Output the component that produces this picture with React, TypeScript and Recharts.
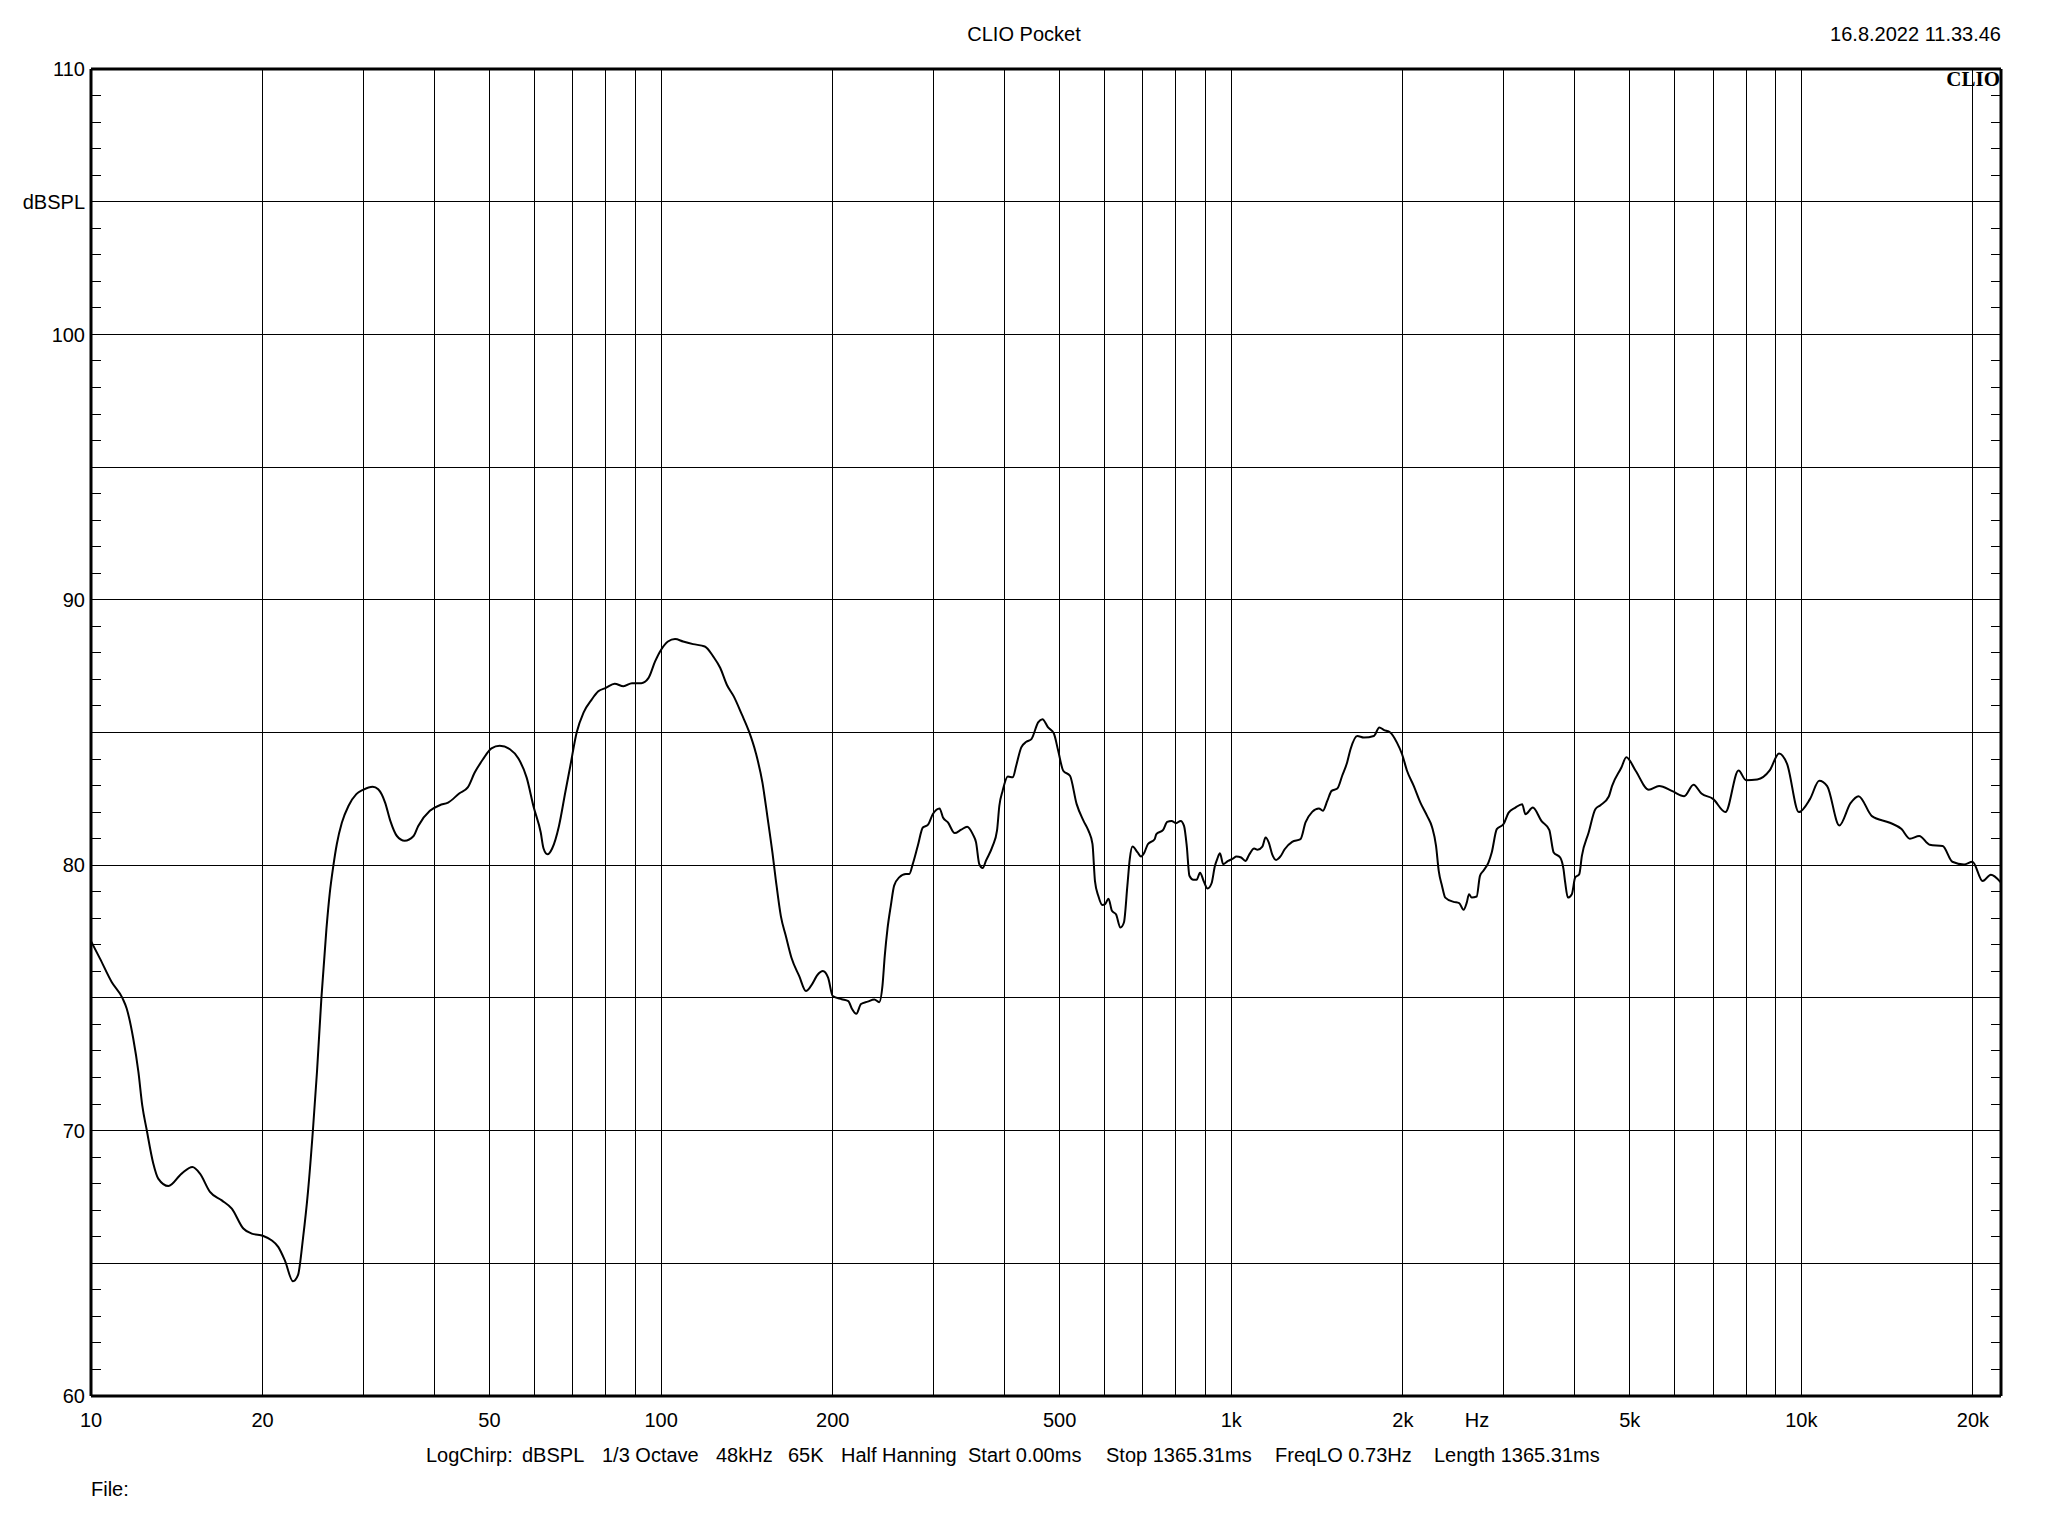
import React from "react";
import { LineChart, Line, XAxis, YAxis, ReferenceLine } from "recharts";

// frequency (Hz) and level (dBSPL)
const freqHz = [
  10, 10.37, 10.87, 11.35, 11.55, 11.86, 12.11, 12.3, 12.52, 12.86, 13.12, 13.67,
  14.42, 15.06, 15.53, 16.17, 16.96, 17.66, 18.5, 19.14, 20.06, 20.73, 21.3, 21.88,
  22.61, 23.07, 23.54, 24.02, 24.51, 24.91, 25.36, 25.88, 26.23, 26.6, 26.99, 27.54,
  28.3, 29.2, 30, 31.2, 31.9, 32.8, 33.5, 34.4, 35.5, 36.8, 37.5, 39.3, 40.9, 42.3,
  44.3, 45.8, 47.1, 48.7, 50.4, 52.1, 54.3, 56.2, 58.1, 59.8, 61.5, 62.2, 63.2, 64.4,
  66.2, 67.9, 69.3, 71.1, 73.1, 75.6, 77.6, 80, 82.9, 85.9, 88.9, 92.3, 95, 97.6, 100,
  102.8, 105.8, 109.3, 113.8, 119.3, 123.4, 127, 130.4, 134.1, 138.6, 142.6, 146.6,
  150.6, 153.6, 156.8, 158.9, 162.2, 165.5, 169.3, 174.7, 179.5, 183.2, 188.3, 192.2,
  196.3, 200, 207.4, 213, 216, 220, 224.2, 230.3, 236.6, 241.3, 244.5, 246.8, 249.5,
  252.9, 256.3, 261.6, 268.8, 272.5, 276.3, 282, 287.8, 293.7, 299.7, 307.9, 312.2,
  318.5, 327.3, 336.1, 344.2, 352.1, 356.8, 361.5, 366.5, 371.4, 381.6, 388.3, 392,
  397.2, 405.6, 414, 419.6, 428.3, 437.2, 446.2, 458.5, 466.5, 477.3, 488.4, 497.2,
  507.4, 521.4, 535.7, 550.5, 561.8, 571, 576.8, 584.7, 594.3, 600.8, 609.2, 617.7,
  627.9, 639.3, 648.3, 657.4, 663.8, 671.2, 685.2, 694.6, 704.2, 714, 733.9, 739,
  759.6, 772.1, 785.9, 800.1, 815.4, 826.5, 835.6, 844.7, 858.3, 869.7, 881.6, 895.9,
  909, 923.7, 936.2, 945, 955.5, 968.2, 987.6, 1007, 1021, 1041, 1059, 1076, 1097,
  1112, 1134, 1149, 1164, 1180, 1199, 1220, 1241, 1279, 1323, 1350, 1387, 1425, 1448,
  1474, 1500, 1535, 1566, 1597, 1619, 1664, 1709, 1779, 1819, 1851, 1901, 1953, 1994,
  2034, 2090, 2147, 2206, 2251, 2287, 2312, 2343, 2374, 2455, 2511, 2556, 2589, 2613,
  2641, 2695, 2731, 2769, 2826, 2864, 2923, 3004, 3066, 3151, 3238, 3282, 3381, 3500,
  3613, 3678, 3776, 3827, 3853, 3895, 3958, 4012, 4078, 4122, 4236, 4352, 4442, 4595,
  4657, 4835, 4932, 5118, 5401, 5630, 5940, 6230, 6470, 6680, 7000, 7360, 7760, 8000,
  8370, 8800, 9140, 9440, 9900, 10360, 10750, 11100, 11660, 12200, 12600, 13300, 14300,
  14990, 15500, 16100, 16800, 17700, 18400, 19300, 19960, 20800, 21500, 22400,
];

const splDb = [
  77.14, 76.48, 75.6, 75.0, 74.6, 73.47, 72.21, 70.95, 70.04, 68.76, 68.19, 67.91,
  68.38, 68.63, 68.38, 67.69, 67.37, 67.06, 66.31, 66.12, 66.03, 65.87, 65.62, 65.11,
  64.32, 64.55, 65.93, 67.69, 70.04, 72.21, 75.0, 77.6, 78.95, 79.95, 80.8, 81.6,
  82.24, 82.68, 82.84, 82.96, 82.86, 82.36, 81.67, 81.1, 80.92, 81.1, 81.48, 82.05, 82.26, 82.36,
  82.71, 82.93, 83.49, 83.99, 84.4, 84.5, 84.37, 84.02, 83.3, 82.17, 81.23, 80.63, 80.41, 80.63,
  81.48, 82.74, 83.74, 85.0, 85.75, 86.25, 86.55, 86.68, 86.84, 86.74, 86.86, 86.86, 87.05, 87.68, 88.12,
  88.43, 88.52, 88.43, 88.33, 88.24, 87.87, 87.43, 86.8, 86.36, 85.67, 85.04, 84.23,
  83.1, 81.84, 80.46, 79.46, 78.08, 77.33, 76.51, 75.82, 75.26, 75.45, 75.88, 76.01,
  75.76, 75.07, 74.95, 74.88, 74.6, 74.4, 74.77, 74.86, 74.94, 74.84, 75.46, 76.59, 77.6,
  78.48, 79.23, 79.54, 79.67, 79.67, 80.04, 80.73, 81.42, 81.52, 81.93, 82.14, 81.8,
  81.61, 81.21, 81.34, 81.45, 81.17, 80.86, 80.04, 79.89, 80.17, 80.73, 81.3, 82.24,
  82.8, 83.34, 83.31, 83.75, 84.44, 84.65, 84.75, 85.38, 85.5, 85.19, 84.97, 84.31,
  83.56, 83.37, 82.3, 81.68, 81.3, 80.8, 79.4, 78.84, 78.5, 78.53, 78.74, 78.28,
  78.15, 77.65, 77.84, 79.22, 80.23, 80.7, 80.48, 80.33, 80.48, 80.79, 80.98, 81.17,
  81.33, 81.63, 81.67, 81.58, 81.67, 81.48, 80.73, 79.6, 79.45, 79.45, 79.72, 79.37,
  79.12, 79.32, 79.97, 80.23, 80.45, 80.04, 80.16, 80.25, 80.33, 80.29, 80.16, 80.41, 80.63,
  80.58, 80.7, 81.04, 80.85, 80.41, 80.2, 80.33, 80.6, 80.88, 80.98, 81.61, 82.01, 82.14, 82.05,
  82.42, 82.8, 82.89, 83.38, 83.87, 84.37, 84.87, 84.81, 84.87, 85.19, 85.1, 85.0, 84.62, 84.18,
  83.56, 82.99, 82.36, 81.86, 81.43, 80.73, 79.79, 79.22, 78.78, 78.62, 78.57, 78.32, 78.59, 78.91,
  78.78, 78.82, 79.6, 79.79, 80.1, 80.48, 81.36, 81.55, 81.98, 82.17, 82.3, 81.92, 82.17, 81.67,
  81.33, 80.48, 80.29, 79.85, 79.35, 78.78, 78.91, 79.54, 79.66, 80.35, 81.23, 82.11, 82.26, 82.59,
  82.99, 83.68, 84.07, 83.57, 82.84, 82.98, 82.79, 82.6, 83.03, 82.7, 82.5, 82.0, 83.57, 83.2,
  83.23, 83.57, 84.21, 83.82, 82.0, 82.5, 83.18, 82.98, 81.5, 82.34, 82.6, 81.85, 81.6,
  81.36, 81.0, 81.1, 80.77, 80.72, 80.13, 80.03, 80.13, 79.4, 79.64, 79.34,
];

const freqGrid = [
  20, 30, 40, 50, 60, 70, 80, 90, 100, 200, 300, 400, 500, 600, 700, 800, 900,
  1000, 2000, 3000, 4000, 5000, 6000, 7000, 8000, 9000, 10000, 20000,
];
const freqLabels = [10, 20, 50, 100, 200, 500, 1000, 2000, 5000, 10000, 20000];
const dbGrid = [65, 70, 75, 80, 85, 90, 95, 100, 105];
const dbTicks = Array.from({ length: 51 }, (_, i) => 60 + i);

const data = freqHz.map((f, i) => ({ f, db: splDb[i] }));

const W = 2048;
const H = 1536;
const PLOT_LEFT = 91;
const PLOT_RIGHT = 2001;
const FONT = '"Liberation Sans", Arial, sans-serif';

const fmtHz = (v: number) => (v >= 1000 ? `${v / 1000}k` : `${v}`);

// left axis tick: labels on the 10s, short inward marks on the 1 dB steps (both frame sides)
const DbTick = ({ x, y, payload }: any) => {
  const v = payload.value;
  if (v % 5 !== 0) {
    const xr = x + (PLOT_RIGHT - PLOT_LEFT);
    return (
      <g>
        <line x1={x} x2={x + 10} y1={y} y2={y} stroke="#000" shapeRendering="crispEdges" />
        <line x1={xr - 10} x2={xr} y1={y} y2={y} stroke="#000" shapeRendering="crispEdges" />
      </g>
    );
  }
  const label = v % 10 === 0 ? String(v) : v === 105 ? "dBSPL" : "";
  return (
    <text x={x - 6} y={y} dy="0.36em" textAnchor="end" fontSize={20} fontFamily={FONT} fill="#000">
      {label}
    </text>
  );
};

const Txt = ({ x, y, anchor = "start", style, children }: any) => {
  const tx = anchor === "end" ? "-100%" : anchor === "middle" ? "-50%" : "0";
  return (
    <div
      style={{
        position: "absolute",
        left: x,
        top: y,
        transform: `translate(${tx}, -50%)`,
        whiteSpace: "pre",
        lineHeight: 1,
        fontSize: 20,
        fontFamily: FONT,
        color: "#000",
        ...style,
      }}
    >
      {children}
    </div>
  );
};

export default function App() {
  return (
    <div style={{ position: "absolute", left: 0, top: 0, width: W, height: H, background: "#fff" }}>
      <LineChart
        width={W}
        height={H}
        data={data}
        margin={{ top: 69, right: W - PLOT_RIGHT - 20, bottom: 100, left: PLOT_LEFT - 80 }}
      >
        <XAxis
          dataKey="f"
          type="number"
          scale="log"
          domain={[10, 22400]}
          ticks={freqLabels}
          tickFormatter={fmtHz}
          interval={0}
          height={40}
          tickLine={false}
          tickSize={0}
          tickMargin={17}
          axisLine={{ stroke: "#000", strokeWidth: 3 }}
          tick={{ fill: "#000", fontSize: 20, fontFamily: FONT }}
          allowDataOverflow
        />
        <YAxis
          yAxisId="left"
          type="number"
          domain={[60, 110]}
          ticks={dbTicks}
          interval={0}
          width={80}
          tickLine={false}
          tickSize={0}
          tickMargin={0}
          axisLine={{ stroke: "#000", strokeWidth: 3 }}
          tick={<DbTick />}
        />
        <YAxis
          yAxisId="right"
          orientation="right"
          type="number"
          domain={[60, 110]}
          width={20}
          tick={false}
          tickLine={false}
          axisLine={{ stroke: "#000", strokeWidth: 3 }}
        />
        {freqGrid.map((v) => (
          <ReferenceLine
            key={`x${v}`}
            yAxisId="left"
            x={v}
            stroke="#000"
            strokeWidth={1}
            shapeRendering="crispEdges"
          />
        ))}
        {dbGrid.map((v) => (
          <ReferenceLine
            key={`y${v}`}
            yAxisId="left"
            y={v}
            stroke="#000"
            strokeWidth={1}
            shapeRendering="crispEdges"
          />
        ))}
        <ReferenceLine yAxisId="left" y={110} stroke="#000" strokeWidth={3} />
        <Line
          yAxisId="left"
          type="monotone"
          dataKey="db"
          stroke="#000"
          strokeWidth={2}
          dot={false}
          isAnimationActive={false}
        />
      </LineChart>

      <Txt x={1024} y={34} anchor="middle">CLIO Pocket</Txt>
      <Txt x={2001} y={34} anchor="end">16.8.2022 11.33.46</Txt>
      <Txt
        x={2000}
        y={79}
        anchor="end"
        style={{ fontFamily: '"Liberation Serif", "Times New Roman", serif', fontWeight: "bold", fontSize: 21 }}
      >
        CLIO
      </Txt>
      <Txt x={1477} y={1420} anchor="middle">Hz</Txt>

      <Txt x={426} y={1455}>LogChirp:</Txt>
      <Txt x={522} y={1455}>dBSPL</Txt>
      <Txt x={602} y={1455}>1/3 Octave</Txt>
      <Txt x={716} y={1455}>48kHz</Txt>
      <Txt x={788} y={1455}>65K</Txt>
      <Txt x={841} y={1455}>Half Hanning</Txt>
      <Txt x={968} y={1455}>Start 0.00ms</Txt>
      <Txt x={1106} y={1455}>Stop 1365.31ms</Txt>
      <Txt x={1275} y={1455}>FreqLO 0.73Hz</Txt>
      <Txt x={1434} y={1455}>Length 1365.31ms</Txt>

      <Txt x={91} y={1489}>File:</Txt>
    </div>
  );
}
